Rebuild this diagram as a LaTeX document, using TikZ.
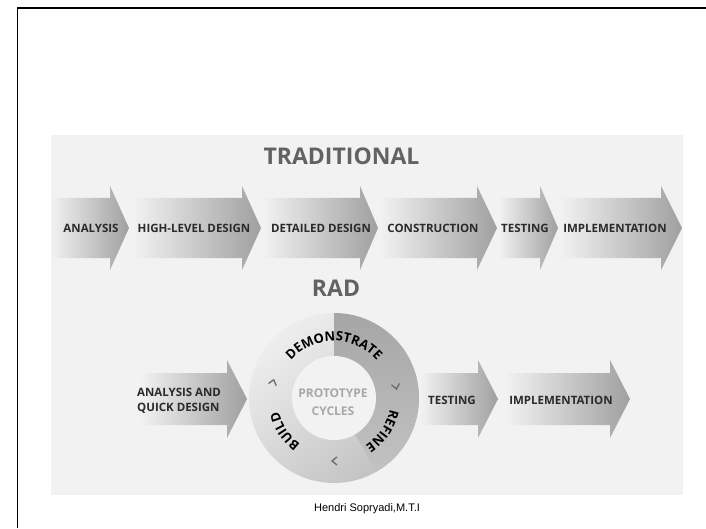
\documentclass[tikz,border=0pt]{standalone}
\usepackage{fontspec}
\setmainfont{Open Sans}
\newfontfamily\footfont{Liberation Sans}
\usetikzlibrary{decorations.text}

\definecolor{panel}{HTML}{F2F2F2}
\definecolor{arrowgray}{HTML}{A0A0A0}
\definecolor{labelgray}{HTML}{2A2A2A}
\definecolor{titlegray}{HTML}{626262}
\definecolor{ringlight}{HTML}{EEEEEE}
\definecolor{ringmid}{HTML}{C2C2C2}
\definecolor{ringdark}{HTML}{A6A6A6}
\definecolor{cyclegray}{HTML}{A8A8A8}
\definecolor{chevgray}{HTML}{6A6A6A}

\newcommand\ringfont{\bfseries\fontsize{13}{15}\selectfont}

\tikzset{
  phase/.style={left color=panel, right color=arrowgray},
  phaselabel/.style={font=\bfseries\fontsize{11.5}{14.5}\selectfont, text=labelgray, inner sep=0pt},
  title/.style={font=\bfseries\fontsize{23}{27}\selectfont, text=titlegray, inner sep=0pt},
  chev/.style={draw=chevgray, line width=1.3pt}
}

\begin{document}
\begin{tikzpicture}[x=1pt, y=1pt]
  \useasboundingbox (0,0) rectangle (706,528);

  % slide frame and panel
  \draw[line width=1.6pt] (17.5,0) -- (17.5,520) -- (706,520);
  \fill[panel] (51,33) rectangle (683,393);

  % Traditional
  \node[title] (trad) at (341.5,372) {TRADITIONAL};
  \foreach \xs/\xh/\xt/\xm/\nm/\txt in {
      51/110/129/91/ana/ANALYSIS,
      133/242/261/194/hld/HIGH-LEVEL DESIGN,
      263/360/378/321/dd/DETAILED DESIGN,
      380/477/497/433/con/CONSTRUCTION,
      499/540/558/525/tst/TESTING,
      560/661/682/615/imp/IMPLEMENTATION} {
    \shade[phase] (\xs,270) -- (\xh,270) -- (\xh,258) -- (\xt,300)
      -- (\xh,342) -- (\xh,330) -- (\xs,330) -- cycle;
    \node[phaselabel] (\nm) at (\xm,300) {\txt};
  }

  % RAD
  \node[title] (rad) at (336,240) {RAD};
  \foreach \xs/\xh/\xt in {140/227/247, 420/478/498, 505/610/630} {
    \shade[phase] (\xs,103) -- (\xh,103) -- (\xh,90) -- (\xt,129)
      -- (\xh,168) -- (\xh,155) -- (\xs,155) -- cycle;
  }
  \node[phaselabel, align=left, anchor=west] (aqd) at (137,127) {ANALYSIS AND\\QUICK DESIGN};
  \node[phaselabel] (rtst) at (452,128) {TESTING};
  \node[phaselabel] (rimp) at (561,128) {IMPLEMENTATION};

  % prototype cycle ring
  \coordinate (cyc) at (334,130);
  \shade[top color=ringlight, bottom color=ringmid, shading angle=40] (cyc) circle[radius=85];
  \shade[top color=ringdark, bottom color=ringmid] (cyc) -- (334,215)
    arc[start angle=90, end angle=-60, radius=85] -- cycle;
  \fill[panel] (cyc) circle[radius=42];

  \path[decorate, decoration={text along path, text align=center,
      text={|\ringfont|DEMONSTRATE}}]
    ([shift={(155:57)}]cyc) arc[start angle=155, end angle=25, radius=57];
  \path[decorate, decoration={text along path, text align=center,
      text={|\ringfont|REFINE}}]
    ([shift={(0:57)}]cyc) arc[start angle=0, end angle=-68, radius=57];
  \path[decorate, decoration={text along path, text align=center,
      text={|\ringfont|BUILD}}]
    ([shift={(246:57)}]cyc) arc[start angle=246, end angle=182, radius=57];

  % direction marks
  \foreach \a in {165,10,-90} {
    \begin{scope}[shift={(cyc)}, rotate=\a]
      \draw[chev] (59,3) -- (63,-2) -- (67,3);
    \end{scope}
  }

  \node[font=\bfseries\fontsize{12}{18.5}\selectfont, text=cyclegray, align=center] (proto) at (333,126) {PROTOTYPE\\CYCLES};

  \node[font=\footfont\fontsize{11}{13}\selectfont] (foot) at (367,19) {Hendri Sopryadi,M.T.I};
\end{tikzpicture}
\end{document}
